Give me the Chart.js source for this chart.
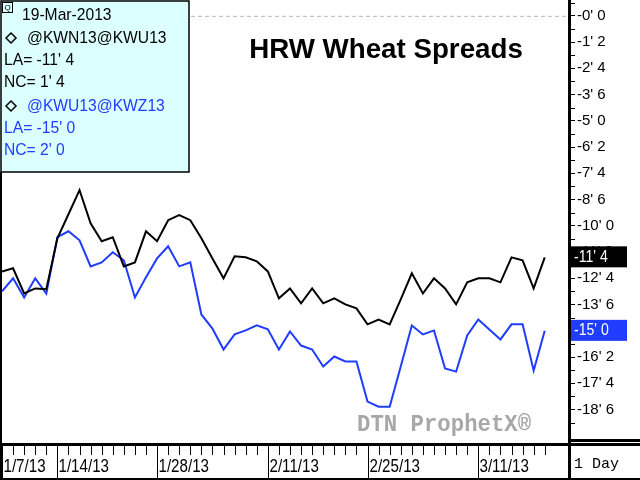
<!DOCTYPE html>
<html><head><meta charset="utf-8">
<script src="https://cdn.jsdelivr.net/npm/chart.js@4/dist/chart.umd.min.js"></script>
<style>html,body{margin:0;padding:0;background:#fff}#wrap{width:640px;height:480px;position:relative}</style>
</head><body><div id="wrap"><canvas id="c" width="640" height="480"></canvas></div>
<script>
const dates = ["1/7/13","1/8/13","1/9/13","1/10/13","1/11/13","1/14/13","1/15/13","1/16/13","1/17/13","1/18/13",
"1/22/13","1/23/13","1/24/13","1/25/13","1/28/13","1/29/13","1/30/13","1/31/13","2/1/13","2/4/13",
"2/5/13","2/6/13","2/7/13","2/8/13","2/11/13","2/12/13","2/13/13","2/14/13","2/15/13","2/19/13",
"2/20/13","2/21/13","2/22/13","2/25/13","2/26/13","2/27/13","2/28/13","3/1/13","3/4/13","3/5/13",
"3/6/13","3/7/13","3/8/13","3/11/13","3/12/13","3/13/13","3/14/13","3/15/13","3/18/13","3/19/13"];
const dateLabels = ["1/7/13","1/14/13","1/28/13","2/11/13","2/25/13","3/11/13"];
const kwnKwu = [-12.17,-12.02,-13.22,-12.98,-13.02,-10.59,-9.45,-8.30,-9.88,-10.73,
-10.54,-11.93,-11.74,-10.26,-10.73,-9.73,-9.49,-9.73,-10.59,-11.55,
-12.50,-11.45,-11.50,-11.69,-12.17,-13.45,-12.98,-13.69,-12.98,-13.69,
-13.45,-13.74,-13.93,-14.69,-14.46,-14.69,-13.50,-12.26,-13.22,-12.50,
-12.98,-13.74,-12.69,-12.50,-12.50,-12.69,-11.50,-11.64,-12.98,-11.50];
const kwuKwz = [-13.12,-12.50,-13.41,-12.50,-13.22,-10.54,-10.26,-10.69,-11.93,-11.74,
-11.26,-11.64,-13.41,-12.45,-11.55,-10.97,-11.93,-11.74,-14.22,-14.89,
-15.89,-15.17,-14.98,-14.74,-14.93,-15.89,-15.03,-15.70,-15.89,-16.70,
-16.22,-16.46,-16.46,-18.37,-18.61,-18.61,-16.70,-14.74,-15.17,-14.98,
-16.79,-16.94,-15.22,-14.46,-14.93,-15.41,-14.69,-14.69,-16.89,-15.00];
const yTickValues = [0,-1.25,-2.5,-3.75,-5,-6.25,-7.5,-8.75,-10,-11.25,-12.5,-13.75,-15,-16.25,-17.5,-18.75];
const yTickLabels = ["-0' 0","-1' 2","-2' 4","-3' 6","-5' 0","-6' 2","-7' 4","-8' 6","-10' 0","-11' 2","-12' 4","-13' 6","-15' 0","-16' 2","-17' 4","-18' 6"];
const lastLabels = ["-11' 4","-15' 0"];
const BLUE = '#1f3cff';

const decor = {
  id:'decor',
  beforeDatasetsDraw(ch){
    const c=ch.ctx, y=ch.scales.y, a=ch.chartArea;
    const y0=y.getPixelForValue(0);
    c.save();c.strokeStyle='#b8b8b8';c.setLineDash([4,3]);c.lineWidth=1;
    c.beginPath();c.moveTo(a.left,y0+0.5);c.lineTo(a.right,y0+0.5);c.stroke();
    c.setLineDash([]);
    c.font='bold 24px "Liberation Mono", "DejaVu Sans Mono", monospace';
    c.fillStyle='#a8a8a8';c.textBaseline='middle';c.textAlign='left';
    c.save();c.translate(357,425);c.scale(0.93,1);c.fillText('DTN ProphetX\u00AE',0,0);c.restore();
    c.restore();
  },
  afterDraw(ch){
    const c=ch.ctx, x=ch.scales.x, y=ch.scales.y, a=ch.chartArea;
    c.save();
    c.fillStyle='#000';
    c.fillRect(0,0,2,480);
    c.fillRect(a.right,0,3,480);
    c.fillRect(0,a.bottom,640,3);
    c.fillRect(0,478,640,2);
    c.fillRect(a.right,a.bottom-4,72,3);
    c.lineWidth=1;c.strokeStyle='#000';
    for(let v=0.625; v>-20.3; v-=1.25){const p=Math.round(y.getPixelForValue(v))+0.5;c.beginPath();c.moveTo(a.right+3,p);c.lineTo(a.right+7,p);c.stroke();}
    const bot=478, top=a.bottom+3;
    dates.forEach((d,i)=>{
      const p=Math.round(x.getPixelForValue(i))+0.5;
      const major=dateLabels.includes(d);
      c.beginPath();c.moveTo(p,top);c.lineTo(p,major?bot:top+9);c.stroke();
      if(major){c.fillStyle='#000';c.font='18px "Liberation Sans", Arial, sans-serif';c.textAlign='left';c.textBaseline='middle';
        c.save();c.translate(p+1,467);c.scale(0.84,1);c.fillText(d,0,0);c.restore();}
    });
    c.beginPath();c.moveTo(a.right+1.5,a.bottom);c.lineTo(a.right+1.5,480);c.stroke();
    c.font='15px "Liberation Mono", monospace';c.fillStyle='#000';c.textAlign='left';c.textBaseline='middle';
    c.fillText('1 Day',574,464);
    [[kwnKwu,'#000',lastLabels[0]],[kwuKwz,BLUE,lastLabels[1]]].forEach(([arr,col,lab])=>{
      const p=y.getPixelForValue(arr[arr.length-1]);
      c.fillStyle=col;c.fillRect(a.right+3,p-11,56,21);
      c.fillStyle='#fff';c.font='16px "Liberation Sans", Arial, sans-serif';c.textAlign='left';
      c.save();c.translate(a.right+6,p);c.scale(0.88,1);c.fillText(lab,0,0);c.restore();
    });
    c.fillStyle='#dcffff';c.fillRect(0,0,189,172);
    c.strokeStyle='#000';c.lineWidth=1.5;c.strokeRect(1,1,188,171);
    c.lineWidth=1;c.strokeRect(2.5,2.5,10,10);
    c.font='8px sans-serif';c.fillStyle='#000';c.textAlign='center';c.fillText('Q',7.5,8);
    c.textAlign='left';c.font='17px "Liberation Sans", Arial, sans-serif';
    const lines=[['19-Mar-2013','#000',15,false],['@KWN13@KWU13','#000',38,true],['LA= -11\' 4','#000',60,false],['NC= 1\' 4','#000',82,false],
      ['@KWU13@KWZ13',BLUE,106,true],['LA= -15\' 0',BLUE,128,false],['NC= 2\' 0',BLUE,150,false]];
    c.save();c.beginPath();c.rect(0,0,188,172);c.clip();
    lines.forEach(([t,col,yy,dia],k)=>{
      let xx=k===0?22:4;
      c.textBaseline='middle';
      if(dia){c.save();c.strokeStyle='#000';c.lineWidth=1.5;c.beginPath();c.moveTo(11,yy-5);c.lineTo(16,yy);c.lineTo(11,yy+5);c.lineTo(6,yy);c.closePath();c.stroke();c.restore();xx=27;}
      c.fillStyle=col;c.save();c.translate(xx,yy);c.scale(0.92,1);c.fillText(t,0,0);c.restore();
    });
    c.restore();
    c.fillStyle='#000';c.font='bold 28px "Liberation Sans", Arial, sans-serif';c.textAlign='center';c.textBaseline='middle';
    c.save();c.translate(386,50);c.scale(0.99,1);c.fillText('HRW Wheat Spreads',0,0);c.restore();
    c.restore();
  }
};

const toXY = arr => arr.map((v,i)=>({x:i,y:v}));
new Chart(document.getElementById('c'),{
  type:'line',
  data:{datasets:[
    {data:toXY(kwnKwu),borderColor:'#000',borderWidth:2,pointRadius:0,tension:0},
    {data:toXY(kwuKwz),borderColor:BLUE,borderWidth:2,pointRadius:0,tension:0}
  ]},
  options:{responsive:false,animation:false,
    layout:{padding:{left:2,top:0,bottom:37,right:0}},
    plugins:{legend:{display:false},tooltip:{enabled:false}},
    scales:{
      x:{type:'linear',display:false,min:0,max:dates.length+1.1},
      y:{position:'right',min:-20.34,max:0.23,
        afterFit(s){s.width=72;},
        afterBuildTicks(s){s.ticks=yTickValues.map(v=>({value:v}));},
        grid:{drawOnChartArea:false,drawTicks:true,tickLength:7,color:'#000'},
        border:{display:false},
        ticks:{autoSkip:false,padding:2,color:'#000',font:{size:15,family:'"Liberation Sans", Arial'},
          callback:(v,i)=>yTickLabels[i]}
      }
    }
  },
  plugins:[decor]
});
</script></body></html>
